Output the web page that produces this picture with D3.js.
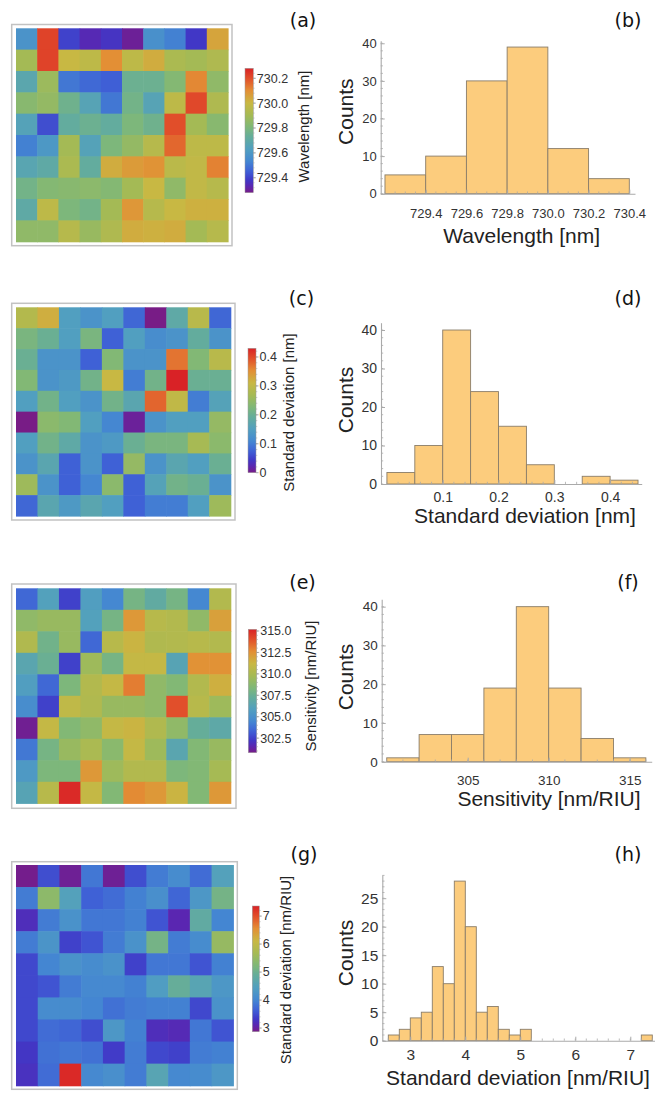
<!DOCTYPE html>
<html>
<head>
<meta charset="utf-8">
<script src="https://cdn.jsdelivr.net/npm/d3@7"></script>
<style>
  body { margin: 0; background: #fff; }
  svg { display: block; font-family: "Liberation Sans", Arial, sans-serif; }
</style>
</head>
<body>
<div id="chart"></div>
<script>
// colour map, close to Mathematica "Rainbow"
var rainbowStops  = [0, 0.05, 0.1, 0.17, 0.25, 0.35, 0.45, 0.53, 0.62, 0.72, 0.82, 0.91, 1];
var rainbowColors = ['#781c86', '#5b26b0', '#4137c6', '#3f5fd6', '#4486d2', '#519fc0', '#65ad9a',
                     '#80b877', '#a4ba55', '#c8b843', '#e38f35', '#e2532b', '#d92226'];

// (a) resonance wavelength per sensor [nm]
var wavelengthGrid = [
  [729.58, 730.22, 729.40, 729.34, 729.37, 729.30, 729.57, 729.52, 729.38, 730.05],
  [729.90, 730.22, 730.00, 729.97, 730.10, 729.97, 730.03, 729.92, 729.90, 729.93],
  [729.68, 729.88, 729.50, 729.47, 729.45, 729.75, 729.75, 729.82, 730.11, 729.85],
  [729.83, 729.86, 729.76, 729.66, 729.50, 729.77, 729.66, 729.97, 730.21, 729.93],
  [729.65, 729.42, 729.72, 729.75, 729.72, 729.80, 729.76, 730.20, 729.90, 729.83],
  [729.52, 729.60, 729.90, 729.65, 729.80, 729.86, 729.95, 730.16, 729.97, 729.97],
  [729.67, 729.70, 729.92, 729.72, 730.03, 730.07, 730.09, 729.96, 729.98, 730.12],
  [729.77, 729.82, 729.83, 729.84, 729.82, 729.90, 730.00, 729.85, 729.98, 729.95],
  [729.70, 729.97, 729.80, 729.77, 729.90, 730.08, 729.95, 730.00, 730.02, 730.02],
  [729.85, 729.85, 729.95, 729.87, 729.93, 730.03, 730.02, 730.03, 729.90, 729.95]
];
// (c) standard deviation of wavelength [nm]
var wavelengthSdGrid = [
  [0.285, 0.32, 0.15, 0.13, 0.15, 0.08, 0.00, 0.18, 0.29, 0.08],
  [0.22, 0.20, 0.15, 0.22, 0.075, 0.15, 0.12, 0.13, 0.19, 0.13],
  [0.20, 0.13, 0.13, 0.075, 0.23, 0.13, 0.13, 0.37, 0.23, 0.29],
  [0.23, 0.13, 0.14, 0.21, 0.31, 0.10, 0.21, 0.43, 0.20, 0.20],
  [0.15, 0.21, 0.15, 0.13, 0.21, 0.17, 0.38, 0.30, 0.10, 0.16],
  [0.00, 0.24, 0.23, 0.15, 0.11, 0.01, 0.13, 0.15, 0.15, 0.25],
  [0.15, 0.21, 0.18, 0.13, 0.14, 0.20, 0.22, 0.22, 0.27, 0.24],
  [0.13, 0.17, 0.075, 0.13, 0.075, 0.25, 0.13, 0.17, 0.15, 0.20],
  [0.26, 0.13, 0.075, 0.11, 0.24, 0.075, 0.16, 0.21, 0.20, 0.13],
  [0.08, 0.17, 0.14, 0.17, 0.15, 0.075, 0.10, 0.10, 0.15, 0.26]
];
// (e) sensitivity [nm/RIU]
var sensitivityGrid = [
  [303.5, 306.0, 302.5, 305.8, 304.5, 308.0, 307.0, 308.0, 304.5, 310.3],
  [309.0, 309.3, 309.3, 306.0, 308.0, 312.3, 310.5, 310.3, 309.0, 312.0],
  [310.2, 307.8, 309.3, 303.5, 310.5, 311.3, 310.2, 310.3, 310.5, 310.3],
  [306.5, 307.5, 302.5, 309.5, 308.0, 311.0, 311.0, 306.3, 312.5, 312.5],
  [305.8, 303.5, 308.3, 310.3, 311.0, 313.0, 309.0, 308.5, 310.3, 311.5],
  [304.8, 302.5, 310.8, 310.2, 309.3, 309.3, 309.0, 314.0, 310.5, 309.5],
  [301.0, 311.0, 308.5, 309.0, 311.0, 311.3, 310.2, 309.0, 307.3, 306.8],
  [304.0, 308.0, 309.3, 310.0, 308.8, 311.0, 309.5, 306.5, 308.5, 309.3],
  [305.5, 308.3, 308.3, 312.3, 309.5, 310.3, 310.3, 308.3, 308.5, 309.8],
  [306.3, 310.5, 315.0, 311.0, 308.5, 312.7, 312.3, 311.3, 308.5, 312.3]
];
// (g) standard deviation of sensitivity [nm/RIU]
var sensitivitySdGrid = [
  [2.90, 3.50, 2.95, 3.85, 2.95, 3.50, 3.90, 4.10, 3.75, 4.50],
  [3.90, 5.40, 4.50, 3.65, 3.75, 3.95, 4.15, 3.70, 4.30, 5.10],
  [3.20, 3.90, 4.20, 3.85, 3.85, 3.95, 3.55, 3.10, 4.80, 4.00],
  [3.90, 4.25, 3.40, 3.55, 3.90, 4.20, 5.10, 3.90, 4.10, 5.50],
  [3.45, 4.00, 4.20, 4.10, 4.20, 3.40, 3.85, 3.85, 3.55, 3.95],
  [3.45, 3.55, 3.90, 4.05, 4.05, 3.95, 4.40, 4.90, 4.60, 4.30],
  [3.45, 4.10, 4.10, 4.00, 3.80, 3.90, 3.95, 3.95, 3.45, 4.20],
  [3.45, 3.75, 3.70, 3.50, 4.30, 3.95, 3.20, 3.15, 3.85, 3.55],
  [3.30, 3.80, 3.85, 3.80, 3.35, 3.90, 3.45, 3.40, 3.90, 3.95],
  [3.25, 3.75, 7.30, 4.05, 4.15, 3.90, 4.60, 4.05, 4.10, 4.30]
];

// histograms: bin edges and counts
var wavelengthEdges  = [729.2, 729.4, 729.6, 729.8, 730.0, 730.2, 730.4];
var wavelengthCounts = [5, 10, 30, 39, 12, 4];
var wavelengthSdEdges  = [0, 0.05, 0.1, 0.15, 0.2, 0.25, 0.3, 0.35, 0.4, 0.45];
var wavelengthSdCounts = [3, 10, 40, 24, 15, 5, 0, 2, 1];
var sensitivityEdges  = [300, 302, 304, 306, 308, 310, 312, 314, 316];
var sensitivityCounts = [1, 7, 7, 19, 40, 19, 6, 1];
var sensitivitySdEdges  = [2.6, 2.8, 3.0, 3.2, 3.4, 3.6, 3.8, 4.0, 4.2, 4.4, 4.6, 4.8, 5.0,
                           5.2, 5.4, 5.6, 5.8, 6.0, 6.2, 6.4, 6.6, 6.8, 7.0, 7.2, 7.4];
var sensitivitySdCounts = [1, 2, 4, 5, 13, 10, 28, 20, 5, 6, 2, 1, 2,
                           0, 0, 0, 0, 0, 0, 0, 0, 0, 0, 1];

// tick labels
var wavelengthTicks    = [729.4, 729.6, 729.8, 730.0, 730.2, 730.4];
var wavelengthBarTicks = [729.4, 729.6, 729.8, 730.0, 730.2];
var wavelengthSdTicks    = [0.1, 0.2, 0.3, 0.4];
var wavelengthSdBarTicks = [0, 0.1, 0.2, 0.3, 0.4];
var sensitivityTicks    = [305, 310, 315];
var sensitivityBarTicks = [302.5, 305, 307.5, 310, 312.5, 315];
var sensitivitySdTicks    = [3, 4, 5, 6, 7];
var sensitivitySdBarTicks = [3, 4, 5, 6, 7];
var countTicks      = [0, 10, 20, 30, 40];
var countTicksSmall = [0, 5, 10, 15, 20, 25];

var barFill = '#fccc7d', barEdge = '#8a7d69', axisCol = '#aaaaaa', textCol = '#333';

var svg = d3.select('#chart').append('svg').attr('width', 655).attr('height', 1095);

var rainbow = d3.scaleLinear().domain(rainbowStops).range(rainbowColors)
                .interpolate(d3.interpolateRgb).clamp(true);

function drawMap(grid, p, idx) {
  var g = svg.append('g');
  var f = p.frame, c = p.cells, b = p.bar;
  g.append('rect').attr('x', f[0]).attr('y', f[1]).attr('width', f[2] - f[0]).attr('height', f[3] - f[1])
   .attr('fill', '#fff').attr('stroke', '#c2c2c2').attr('stroke-width', 1.5);

  var x = d3.scaleBand().domain(d3.range(10)).range([c[0], c[2]]);
  var y = d3.scaleBand().domain(d3.range(10)).range([c[1], c[3]]);
  var t = d3.scaleLinear().domain(p.dom).range([0, 1]);
  var cells = [];
  grid.forEach(function (row, i) { row.forEach(function (v, j) { cells.push({r: i, c: j, v: v}); }); });
  g.selectAll('rect.cell').data(cells).join('rect').attr('class', 'cell')
   .attr('x', function (d) { return x(d.c); }).attr('y', function (d) { return y(d.r); })
   .attr('width', x.bandwidth() + 0.6).attr('height', y.bandwidth() + 0.6)
   .attr('fill', function (d) { return rainbow(t(d.v)); });

  // colour bar
  var grad = svg.append('defs').append('linearGradient').attr('id', 'grad' + idx)
                .attr('x1', 0).attr('y1', 1).attr('x2', 0).attr('y2', 0);
  grad.selectAll('stop').data(d3.range(0, 1.0001, 0.02)).join('stop')
      .attr('offset', function (d) { return d; }).attr('stop-color', function (d) { return rainbow(d); });
  g.append('rect').attr('x', b[0]).attr('y', b[1]).attr('width', b[2] - b[0]).attr('height', b[3] - b[1])
   .attr('fill', 'url(#grad' + idx + ')').attr('stroke', '#9a9a9a').attr('stroke-width', 0.5);
  var cy = d3.scaleLinear().domain(p.dom).range([b[3], b[1]]);
  var step = p.ticks[1] - p.ticks[0];
  var minors = d3.range(p.ticks[0] - 5 * step, p.dom[1], step / 5)
                 .filter(function (v) { return v > p.dom[0] && v < p.dom[1]; });
  g.selectAll('line.mn').data(minors).join('line').attr('class', 'mn')
   .attr('x1', b[2]).attr('x2', b[2] + 1.3).attr('y1', cy).attr('y2', cy)
   .attr('stroke', '#999').attr('stroke-width', 0.5);
  g.selectAll('line.mj').data(p.ticks).join('line').attr('class', 'mj')
   .attr('x1', b[2]).attr('x2', b[2] + 2.5).attr('y1', cy).attr('y2', cy)
   .attr('stroke', '#888').attr('stroke-width', 0.7);
  g.selectAll('text.tk').data(p.ticks).join('text').attr('class', 'tk')
   .attr('x', b[2] + 3.5).attr('y', cy).attr('dy', '0.35em')
   .attr('font-size', 12.5).attr('fill', textCol)
   .text(d3.format(p.fmt));
  g.append('text').attr('transform', 'translate(' + p.labelX + ',' + p.labelY + ') rotate(-90)')
   .attr('text-anchor', 'middle').attr('font-size', 15).attr('fill', '#222').text(p.label);

  svg.append('text').attr('x', p.tagX).attr('y', p.tagY).attr('text-anchor', 'middle')
     .attr('font-family', '"DejaVu Sans", sans-serif').attr('font-size', 19).attr('fill', '#111').text(p.tag);
}

function drawHist(edges, counts, p) {
  var g = svg.append('g');
  var x = d3.scaleLinear().domain(p.xDom).range(p.xRange);
  var y = d3.scaleLinear().domain([0, p.yMax]).range([p.y0, p.yTop]);
  var bins = counts.map(function (n, i) { return {n: n, a: edges[i], b: edges[i + 1]}; })
                   .filter(function (d) { return d.n > 0; });
  g.selectAll('rect').data(bins).join('rect')
   .attr('x', function (d) { return x(d.a); }).attr('width', function (d) { return x(d.b) - x(d.a); })
   .attr('y', function (d) { return y(d.n); }).attr('height', function (d) { return y(0) - y(d.n); })
   .attr('fill', barFill).attr('stroke', barEdge).attr('stroke-width', 0.9);

  // minor ticks, drawn over the bars like the original
  var xm = d3.range(p.xMinor[0], p.xDom[1], p.xMinor[1])
             .filter(function (v) { return v > p.xDom[0]; });
  g.selectAll('line.xm').data(xm).join('line').attr('class', 'xm')
   .attr('x1', x).attr('x2', x).attr('y1', p.y0).attr('y2', p.y0 - 2.2)
   .attr('stroke', axisCol).attr('stroke-width', 0.8);
  var ym = d3.range(0, p.yMax, p.yMinor);
  g.selectAll('line.ym').data(ym).join('line').attr('class', 'ym')
   .attr('x1', p.xRange[0]).attr('x2', p.xRange[0] + 2.2).attr('y1', y).attr('y2', y)
   .attr('stroke', axisCol).attr('stroke-width', 0.8);

  var xa = g.append('g').attr('transform', 'translate(0,' + p.y0 + ')')
            .call(d3.axisBottom(x).tickValues(p.xTicks).tickFormat(d3.format(p.xFmt))
                    .tickSize(-4).tickSizeOuter(0).tickPadding(0));
  var ya = g.append('g').attr('transform', 'translate(' + p.xRange[0] + ',0)')
            .call(d3.axisLeft(y).tickValues(p.yTicks).tickSize(-4).tickSizeOuter(0).tickPadding(4));
  [xa, ya].forEach(function (a) {
    a.attr('font-size', null).attr('font-family', null).attr('color', axisCol);
    a.select('.domain').attr('stroke-width', 1.1);
    a.selectAll('text').attr('fill', textCol).attr('font-size', p.font);
  });
  xa.selectAll('text').attr('y', p.labelOff).attr('dy', null);

  g.append('text').attr('transform', 'translate(353,' + p.countsY + ') rotate(-90)')
   .attr('text-anchor', 'middle').attr('font-size', 21).attr('fill', '#222').text('Counts');
  g.append('text').attr('x', p.titleX).attr('y', p.titleY).attr('text-anchor', 'middle')
   .attr('font-size', 21).attr('fill', '#222').text(p.title);
  svg.append('text').attr('x', 628).attr('y', p.tagY).attr('text-anchor', 'middle')
     .attr('font-family', '"DejaVu Sans", sans-serif').attr('font-size', 19).attr('fill', '#111').text(p.tag);
}

drawMap(wavelengthGrid, {
  frame: [11.7, 24.5, 232, 245.7], cells: [16, 28.3, 228, 241.7], dom: [729.28, 730.28],
  bar: [245, 68.3, 253.3, 192.7], ticks: wavelengthBarTicks, fmt: '.1f',
  label: 'Wavelength [nm]', labelX: 309, labelY: 126.5, tag: '(a)', tagX: 303, tagY: 27
}, 0);
drawMap(wavelengthSdGrid, {
  frame: [11.7, 303.3, 235, 520], cells: [16, 307.3, 230.7, 516], dom: [0, 0.43],
  bar: [248, 348.3, 256, 472.7], ticks: wavelengthSdBarTicks, fmt: '',
  label: 'Standard deviation [nm]', labelX: 294, labelY: 412.5, tag: '(c)', tagX: 301.5, tagY: 305
}, 1);
drawMap(sensitivityGrid, {
  frame: [11.7, 584, 236, 808.3], cells: [16, 588.3, 230.7, 803.3], dom: [300.8, 315.2],
  bar: [248.3, 629.3, 256.7, 752.7], ticks: sensitivityBarTicks, fmt: '.1f',
  label: 'Sensitivity [nm/RIU]', labelX: 316, labelY: 686, tag: '(e)', tagX: 302.5, tagY: 589
}, 2);
drawMap(sensitivitySdGrid, {
  frame: [11.7, 861.7, 237.3, 1089.3], cells: [16, 865, 233.3, 1085.7], dom: [2.87, 7.36],
  bar: [252.3, 906, 259.3, 1031.7], ticks: sensitivitySdBarTicks, fmt: 'd',
  label: 'Standard deviation [nm/RIU]', labelX: 291, labelY: 970, tag: '(g)', tagX: 304, tagY: 861
}, 3);

drawHist(wavelengthEdges, wavelengthCounts, {
  xDom: [729.179, 730.428], xRange: [380.7, 635], y0: 193.7, yTop: 40.7, yMax: 40.69,
  xTicks: wavelengthTicks, xFmt: '.1f', xMinor: [729.2, 0.05], yTicks: countTicks, yMinor: 2,
  font: 13, labelOff: 24.6, title: 'Wavelength [nm]', titleX: 521.7, titleY: 242.5,
  countsY: 111.7, tag: '(b)', tagY: 27
});
drawHist(wavelengthSdEdges, wavelengthSdCounts, {
  xDom: [-0.0106, 0.4566], xRange: [381, 641.7], y0: 484, yTop: 322.7, yMax: 41.9,
  xTicks: wavelengthSdTicks, xFmt: '.1f', xMinor: [0, 0.02], yTicks: countTicks, yMinor: 2,
  font: 14, labelOff: 17.5, title: 'Standard deviation [nm]', titleX: 525, titleY: 523,
  countsY: 400, tag: '(d)', tagY: 305
});
drawHist(sensitivityEdges, sensitivityCounts, {
  xDom: [299.69, 316.36], xRange: [381.7, 651.7], y0: 761.7, yTop: 599.3, yMax: 41.9,
  xTicks: sensitivityTicks, xFmt: 'd', xMinor: [300, 1], yTicks: countTicks, yMinor: 2,
  font: 13.5, labelOff: 23.3, title: 'Sensitivity [nm/RIU]', titleX: 549, titleY: 805.7,
  countsY: 677, tag: '(f)', tagY: 589
});
drawHist(sensitivitySdEdges, sensitivitySdCounts, {
  xDom: [2.491, 7.54], xRange: [382.3, 660], y0: 1040.7, yTop: 875, yMax: 29.07,
  xTicks: sensitivitySdTicks, xFmt: 'd', xMinor: [2.6, 0.2], yTicks: countTicksSmall, yMinor: 1,
  font: 15.5, labelOff: 19.3, title: 'Standard deviation [nm/RIU]', titleX: 518, titleY: 1085,
  countsY: 953, tag: '(h)', tagY: 861
});
</script>
</body>
</html>
